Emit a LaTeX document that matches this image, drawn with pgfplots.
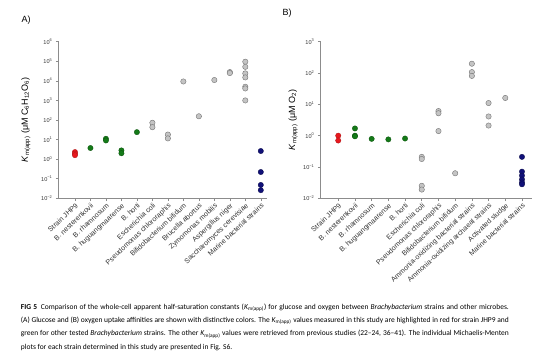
\documentclass[border=0pt]{standalone}
\usepackage{fontspec}
\setmainfont{Liberation Sans}
\newfontfamily\capfont{Carlito}
\usepackage{pgfplots}
\pgfplotsset{compat=1.18}
\definecolor{axgray}{RGB}{140,140,140}
\definecolor{redfill}{RGB}{232,24,30}
\definecolor{reddraw}{RGB}{170,20,20}
\definecolor{grnfill}{RGB}{20,122,24}
\definecolor{grndraw}{RGB}{10,80,12}
\definecolor{gryfill}{RGB}{196,196,196}
\definecolor{grydraw}{RGB}{115,115,115}
\definecolor{navfill}{RGB}{16,16,120}
\definecolor{navdraw}{RGB}{8,8,70}
\pgfplotsset{
  red pts/.style={only marks, mark=*, mark size=2.7pt, mark options={fill=redfill, draw=reddraw, line width=0.3pt}},
  grn pts/.style={only marks, mark=*, mark size=2.7pt, mark options={fill=grnfill, draw=grndraw, line width=0.3pt}},
  gry pts/.style={only marks, mark=*, mark size=2.7pt, mark options={fill=gryfill, draw=grydraw, line width=0.4pt}},
  nav pts/.style={only marks, mark=*, mark size=2.7pt, mark options={fill=navfill, draw=navdraw, line width=0.3pt}},
}
\newcommand{\Km}{\textit{K}\textsubscript{m(app)}}
\begin{document}
\begin{tikzpicture}[x=1pt,y=1pt]
\useasboundingbox (0,0) rectangle (554,356);
% Panel A
\begin{axis}[
  ymode=log, yminorticks=false,
  scale only axis, height=156.6pt, width=208.3pt,
  at={(58.7pt,157.7pt)}, anchor=south west,
  axis lines=left, axis line style={-, draw=axgray, line width=0.6pt},
  tick align=outside, major tick length=2.8pt,
  tick style={draw=axgray, line width=0.6pt},
  clip=false,
  x tick label style={rotate=43, anchor=north east, font=\fontsize{7.1}{8}\selectfont, inner sep=1pt, text=black!80},
  y tick label style={font=\fontsize{5.6}{6}\selectfont, text=black!80},
  ylabel style={font=\fontsize{9}{10}\selectfont, at={(axis description cs:-0.158,0.5)}, anchor=center},
  xmin=-1.05, xmax=12.4, ymin=1e-2, ymax=1e6,
  xtick={0,...,12},
  ytick={1e-2,1e-1,1e0,1e1,1e2,1e3,1e4,1e5,1e6},
  yticklabels={10\textsuperscript{−2},10\textsuperscript{−1},10\textsuperscript{0},10\textsuperscript{1},10\textsuperscript{2},10\textsuperscript{3},10\textsuperscript{4},10\textsuperscript{5},10\textsuperscript{6}},
  xticklabels={Strain JHP9, B. nesterenkovii, B. rhamnosum, B. huguangmaarense, B. horti, Escherichia coli, Pseudomonas chlororaphis, Bifidobacterium bifidum, Brucella abortus, Zymomonas mobilis, Aspergillus niger, Saccharomyces cerevisiae, Marine bacterial strains},
  ylabel={\textit{K}\textsubscript{m(app)} (μM C\textsubscript{6}H\textsubscript{12}O\textsubscript{6})},
]
\addplot[gry pts] coordinates {(5,72) (5,43) (6,18) (6,11.5) (7,9300) (8,155) (9,11000) (10,28000) (10,25000) (11,95000) (11,52000) (11,24000) (11,15000) (11,5000) (11,4100) (11,1000)};
\addplot[grn pts] coordinates {(1,3.7) (2,11) (2,9) (3,2.8) (3,2.0) (4,24)};
\addplot[red pts] coordinates {(0,2.3) (0,1.9) (0,1.6)};
\addplot[nav pts] coordinates {(12,2.6) (12,0.22) (12,0.048) (12,0.026)};
\end{axis}
% Panel B
\begin{axis}[
  ymode=log, yminorticks=false,
  scale only axis, height=156.6pt, width=211.3pt,
  at={(320.7pt,157.7pt)}, anchor=south west,
  axis lines=left, axis line style={-, draw=axgray, line width=0.6pt},
  tick align=outside, major tick length=2.8pt,
  tick style={draw=axgray, line width=0.6pt},
  clip=false,
  x tick label style={rotate=43, anchor=north east, font=\fontsize{7.1}{8}\selectfont, inner sep=1pt, text=black!80},
  y tick label style={font=\fontsize{5.6}{6}\selectfont, text=black!80},
  ylabel style={font=\fontsize{9}{10}\selectfont, at={(axis description cs:-0.131,0.5)}, anchor=center},
  xmin=-1.05, xmax=11.6, ymin=1e-2, ymax=1e3,
  xtick={0,...,11},
  ytick={1e-2,1e-1,1e0,1e1,1e2,1e3},
  yticklabels={10\textsuperscript{−2},10\textsuperscript{−1},10\textsuperscript{0},10\textsuperscript{1},10\textsuperscript{2},10\textsuperscript{3}},
  xticklabels={Strain JHP9, B. nesterenkovii, B. rhamnosum, B. huguangmaarense, B. horti, Escherichia coli, Pseudomonas chlororaphis, Bifidobacterium bifidum, Ammonia-oxidizing bacterial strains, Ammonia-oxidizing archaeal strains, Activated sludge, Marine bacterial strains},
  ylabel={\textit{K}\textsubscript{m(app)} (μM O\textsubscript{2})},
]
\addplot[gry pts] coordinates {(5,0.21) (5,0.18) (5,0.025) (5,0.019) (6,6.1) (6,5.2) (6,1.4) (7,0.063) (8,198) (8,107) (8,81) (9,11) (9,4.1) (9,2.1) (10,16)};
\addplot[grn pts] coordinates {(1,1.7) (1,1.0) (1,0.95) (2,0.79) (3,0.76) (4,0.81)};
\addplot[red pts] coordinates {(0,1.0) (0,0.7)};
\addplot[nav pts] coordinates {(11,0.21) (11,0.071) (11,0.053) (11,0.040) (11,0.032) (11,0.028)};
\end{axis}
\node[font=\fontsize{9}{10}\selectfont] at (26,336) {A)};
\node[font=\fontsize{9}{10}\selectfont] at (287,343) {B)};
\node[anchor=north west, align=left, inner sep=0pt,
  font=\capfont\fontsize{7.5}{13.3}\selectfont] at (20.7,52.5) {%
\makebox[488pt][s]{\textbf{FIG 5}\enspace Comparison of the whole-cell apparent half-saturation constants (\Km) for glucose and oxygen between \textit{Brachybacterium} strains and other microbes.}\\
\makebox[488pt][s]{(A) Glucose and (B) oxygen uptake affinities are shown with distinctive colors. The \Km{} values measured in this study are highlighted in red for strain JHP9 and}\\
\makebox[488pt][s]{green for other tested \textit{Brachybacterium} strains. The other \Km{} values were retrieved from previous studies (22–24, 36–41). The individual Michaelis-Menten}\\
plots for each strain determined in this study are presented in Fig. S6.};
\end{tikzpicture}
\end{document}
